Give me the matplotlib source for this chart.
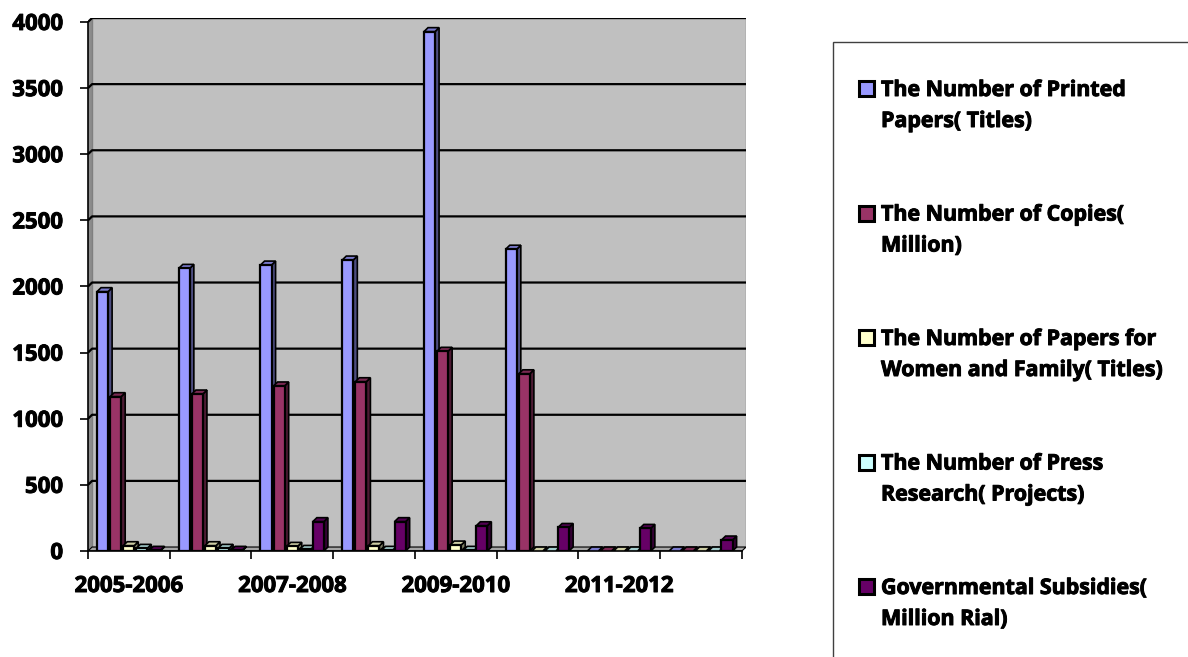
import matplotlib
matplotlib.use("Agg")
import matplotlib.pyplot as plt
import matplotlib.patheffects as pe
from matplotlib.patches import Rectangle, Polygon

categories = ["2005-2006", "2006-2007", "2007-2008", "2008-2009",
              "2009-2010", "2010-2011", "2011-2012", "2012-2013"]
series_names = ["The Number of Printed\nPapers( Titles)",
                "The Number of Copies(\nMillion)",
                "The Number of Papers for\nWomen and Family( Titles)",
                "The Number of Press\nResearch( Projects)",
                "Governmental Subsidies(\nMillion Rial)"]
printed_papers = [1961, 2137, 2162, 2200, 3927, 2282, 0, 0]
copies = [1167, 1187, 1248, 1280, 1510, 1340, 0, 0]
women_papers = [40, 40, 35, 40, 45, 0, 0, 0]
press_research = [20, 20, 12, 5, 5, 0, 0, 0]
subsidies = [5, 5, 222, 222, 191, 178, 171, 83]
values = [printed_papers, copies, women_papers, press_research, subsidies]

front_colors = ["#9999FF", "#993366", "#FFFFCC", "#CCFFFF", "#660066"]
side_colors = ["#4D4D80", "#4D1A33", "#808066", "#668080", "#330033"]
top_colors = ["#7A7ACC", "#7A2952", "#CCCCA3", "#A3CCCC", "#520052"]
yticks = [0, 500, 1000, 1500, 2000, 2500, 3000, 3500, 4000]

W, H = 1188, 657
fig = plt.figure(figsize=(W / 100, H / 100), dpi=100)
FONT = "Open Sans"
FS_TICK = 16.0
FS_LEG = 15.4
thick = [pe.withStroke(linewidth=0.7, foreground="black")]

def px(x, y):
    return x / W, 1 - y / H

ax = fig.add_axes([88 / W, 1 - 551 / H, 658 / W, 533 / H])
n = len(categories)
dx, dy = 0.05, 30
ax.set_xlim(0, n + dx)
ax.set_ylim(0, 4000 + dy)
ymax = yticks[-1]

# walls
ax.add_patch(Polygon([(0, 0), (dx, dy), (dx, ymax + dy), (0, ymax)],
                     closed=True, facecolor="#8C8C8C", edgecolor="none", zorder=0))
ax.add_patch(Rectangle((dx, dy), n, ymax, facecolor="#C0C0C0", edgecolor="#808080",
                       lw=1.0, zorder=0))
ax.add_patch(Polygon([(0, 0), (n, 0), (n + dx, dy), (dx, dy)], closed=True,
                     facecolor="#A6A6A6", edgecolor="black", lw=0.8, zorder=0.5))
for yv in yticks[1:]:
    ax.plot([0, dx, n + dx], [yv, yv + dy, yv + dy], color="black", lw=1.6,
            zorder=0.6, solid_capstyle="butt")

slot, bw, off = 0.16, 0.135, 0.11
for j, vals in enumerate(values):
    for i, h in enumerate(vals):
        x0 = i + off + j * slot
        z = 2 + i * 10 + j
        ax.add_patch(Polygon([(x0 + bw, 0), (x0 + bw + dx, dy), (x0 + bw + dx, h + dy), (x0 + bw, h)],
                             closed=True, facecolor=side_colors[j], edgecolor="black", lw=1.2, zorder=z))
        ax.add_patch(Polygon([(x0, h), (x0 + dx, h + dy), (x0 + bw + dx, h + dy), (x0 + bw, h)],
                             closed=True, facecolor=top_colors[j], edgecolor="black", lw=1.2, zorder=z))
        if h > 0:
            ax.add_patch(Rectangle((x0, 0), bw, h, facecolor=front_colors[j],
                                   edgecolor="black", lw=1.6, zorder=z + 0.1))

for s in ["top", "right"]:
    ax.spines[s].set_visible(False)
ax.spines["left"].set_bounds(0, ymax)
ax.spines["bottom"].set_bounds(0, n)
ax.spines["left"].set_linewidth(1.2)
ax.spines["bottom"].set_linewidth(1.2)
ax.set_facecolor("white")

ax.set_yticks(yticks)
ax.set_yticklabels([str(v) for v in yticks], fontfamily=FONT, fontweight="bold", fontsize=FS_TICK)
ax.tick_params(axis="y", direction="out", length=6, width=1.2, pad=12)

ax.set_xticks(range(n + 1))
ax.set_xticklabels([])
ax.tick_params(axis="x", which="major", direction="out", length=6, width=1.2)
ax.set_xticks([i + 0.5 for i in range(0, n, 2)], minor=True)
ax.set_xticklabels(categories[::2], minor=True, fontfamily=FONT, fontweight="bold", fontsize=FS_TICK)
ax.tick_params(axis="x", which="minor", length=0, pad=18)
for t in ax.get_yticklabels() + ax.get_xticklabels(minor=True):
    t.set_path_effects(thick)

# legend box
fig.patches.append(Rectangle(px(833, 700), (1300 - 833) / W, (700 - 42) / H,
                             transform=fig.transFigure, facecolor="white",
                             edgecolor="#404040", lw=1.0, zorder=0, figure=fig))
for k, name in enumerate(series_names):
    base = 96 + k * 124.5
    fig.patches.append(Rectangle(px(859, base), 15 / W, 15 / H, transform=fig.transFigure,
                                 facecolor=front_colors[k], edgecolor="black", lw=2.2,
                                 figure=fig, zorder=3))
    for li, line in enumerate(name.split("\n")):
        fx, fy = px(881, base + li * 31)
        fig.text(fx, fy, line, fontfamily=FONT, fontweight="bold", fontsize=FS_LEG,
                 va="baseline", ha="left", path_effects=thick)

fig.savefig("out.png", dpi=100)
